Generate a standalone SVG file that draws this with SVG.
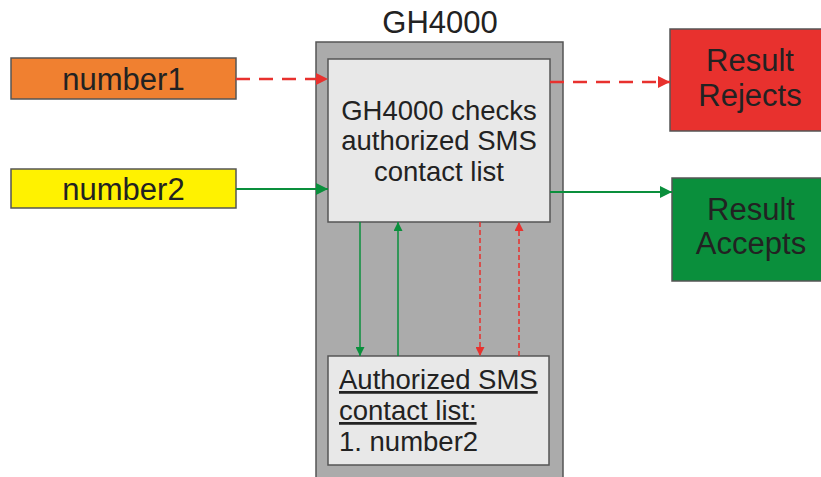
<svg xmlns="http://www.w3.org/2000/svg" width="821" height="477" viewBox="0 0 821 477">
<style>
text{font-family:"Liberation Sans",Arial,sans-serif;fill:#222}
.box{stroke:#555;stroke-width:1.5}
.big{font-size:27.5px}
.lab{font-size:31px}
.red{stroke:#E8312E;fill:none}
.grn{stroke:#0A8F3C;fill:none}
</style>
<defs>
<marker id="hr" markerWidth="12" markerHeight="12" refX="12" refY="6" orient="auto" markerUnits="userSpaceOnUse"><path d="M0,0 L12,6 L0,12 z" fill="#E8312E"/></marker>
<marker id="hg" markerWidth="12" markerHeight="12" refX="12" refY="6" orient="auto" markerUnits="userSpaceOnUse"><path d="M0,0 L12,6 L0,12 z" fill="#0A8F3C"/></marker>
<marker id="sr" markerWidth="9" markerHeight="9" refX="9" refY="4.5" orient="auto" markerUnits="userSpaceOnUse"><path d="M0,0 L9,4.5 L0,9 z" fill="#E8312E"/></marker>
<marker id="sg" markerWidth="9" markerHeight="9" refX="9" refY="4.5" orient="auto" markerUnits="userSpaceOnUse"><path d="M0,0 L9,4.5 L0,9 z" fill="#0A8F3C"/></marker>
</defs>
<rect width="821" height="477" fill="#fff"/>
<g id="gh4000">
<rect class="box" x="316" y="42" width="247" height="445" fill="#ABABAB"/>
<text class="lab" x="440" y="33" text-anchor="middle">GH4000</text>
</g>
<g id="check">
<rect class="box" x="328" y="59" width="222" height="163" fill="#E8E8E8"/>
<text class="big" text-anchor="middle"><tspan x="439" y="120">GH4000 checks</tspan><tspan x="439" y="150">authorized SMS</tspan><tspan x="439" y="181">contact list</tspan></text>
</g>
<g id="list">
<rect class="box" x="328" y="356" width="221" height="109" fill="#E8E8E8"/>
<text class="big"><tspan x="339" y="389" text-decoration="underline">Authorized SMS</tspan><tspan x="339" y="420" text-decoration="underline">contact list:</tspan><tspan x="339" y="451">1. number2</tspan></text>
</g>
<g id="number1">
<rect class="box" x="11" y="58" width="225" height="41" fill="#F08030"/>
<text class="lab" x="123.5" y="90" text-anchor="middle">number1</text>
</g>
<g id="number2">
<rect class="box" x="11" y="169" width="225" height="39" fill="#FFF200"/>
<text class="lab" x="123.5" y="200" text-anchor="middle">number2</text>
</g>
<g id="rejects">
<rect class="box" x="670" y="29" width="153" height="102" fill="#E8312E"/>
<text class="lab" text-anchor="middle"><tspan x="750" y="71">Result</tspan><tspan x="750" y="106">Rejects</tspan></text>
</g>
<g id="accepts">
<rect class="box" x="672" y="178" width="151" height="103" fill="#0A8F3C"/>
<text class="lab" text-anchor="middle"><tspan x="751" y="220">Result</tspan><tspan x="751" y="254">Accepts</tspan></text>
</g>
<g id="connectors">
<line class="red" x1="236" y1="79" x2="328" y2="79" stroke-width="2.5" stroke-dasharray="14,9" marker-end="url(#hr)"/>
<line class="grn" x1="236" y1="189" x2="328" y2="189" stroke-width="2" marker-end="url(#hg)"/>
<line class="red" x1="550" y1="82" x2="670" y2="82" stroke-width="2.5" stroke-dasharray="14,9" marker-end="url(#hr)"/>
<line class="grn" x1="550" y1="192" x2="672" y2="192" stroke-width="2" marker-end="url(#hg)"/>
<line class="grn" x1="360" y1="222" x2="360" y2="356" stroke-width="1.5" marker-end="url(#sg)"/>
<line class="grn" x1="398" y1="356" x2="398" y2="222" stroke-width="1.5" marker-end="url(#sg)"/>
<line class="red" x1="480" y1="222" x2="480" y2="356" stroke-width="1.5" stroke-dasharray="5,3" marker-end="url(#sr)"/>
<line class="red" x1="519" y1="356" x2="519" y2="222" stroke-width="1.5" stroke-dasharray="5,3" marker-end="url(#sr)"/>
</g>
</svg>
